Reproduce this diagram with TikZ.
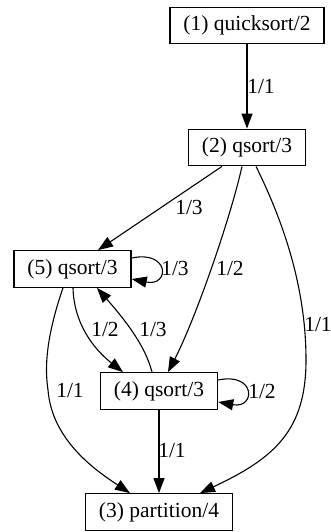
\documentclass[tikz,border=0pt]{standalone}
\usepackage{fontspec}
\setmainfont{Liberation Serif}
\usetikzlibrary{arrows.meta,calc}
\begin{document}
\begin{tikzpicture}[x=1pt,y=-1pt,
  box/.style={draw,line width=1.3pt,minimum height=36.5pt,inner xsep=13.5pt,inner ysep=0pt},
  lbl/.style={inner sep=0pt},
  edge/.style={line width=1.1pt,-{Triangle[length=15pt,width=11pt]}},
  font=\fontsize{21.5}{24}\selectfont]
\useasboundingbox (0,0) rectangle (331,532);
\node[box] (n1) at (247,25.5) {(1) quicksort/2};
\node[box] (n2) at (247,147.5) {(2) qsort/3};
\node[box] (n5) at (72.5,269) {(5) qsort/3};
\node[box] (n4) at (159,391) {(4) qsort/3};
\node[box] (n3) at (159,512) {(3) partition/4};

\draw[edge] (n1.south) -- (n2.north);
\draw[edge] ($(n2.south)+(-25,0)$) -- ($(n5.north)+(25.5,0)$);
\draw[edge] ($(n2.south)+(-5,0)$) .. controls (230,220) and (195,320) .. ($(n4.north)+(9,0)$);
\draw[edge] ($(n2.south)+(9,0)$) .. controls (285,225) and (306,290) .. (306,360) .. controls (306,430) and (275,458) .. ($(n3.north)+(41,0)$);
\draw[edge] ($(n5.east)+(0,-11)$) .. controls (170,250) and (170,287) .. ($(n5.east)+(0,10)$);
\draw[edge] ($(n4.east)+(0,-11)$) .. controls (256,372) and (256,409) .. ($(n4.east)+(0,11)$);
\draw[edge] ($(n5.south)+(0.5,0)$) .. controls (74,325) and (95,350) .. ($(n4.north)+(-36,0)$);
\draw[edge] ($(n4.north)+(-7,0)$) .. controls (145,345) and (125,320) .. ($(n5.south)+(24.5,0)$);
\draw[edge] ($(n5.south)+(-9.5,0)$) .. controls (45,340) and (45,370) .. (48,390) .. controls (52,440) and (95,470) .. ($(n3.north)+(-29,0)$);
\draw[edge] (n4.south) -- (n3.north);

\node[lbl] (l12) at (261,87) {1/1};
\node[lbl] (l25) at (189,207) {1/3};
\node[lbl] (l24) at (230,268) {1/2};
\node[lbl] (l23) at (318,325) {1/1};
\node[lbl] (l55) at (175,268) {1/3};
\node[lbl] (l54) at (105,329) {1/2};
\node[lbl] (l45) at (153,329) {1/3};
\node[lbl] (l53) at (70,391) {1/1};
\node[lbl] (l44) at (262,391) {1/2};
\node[lbl] (l43) at (172,451) {1/1};
\end{tikzpicture}
\end{document}
